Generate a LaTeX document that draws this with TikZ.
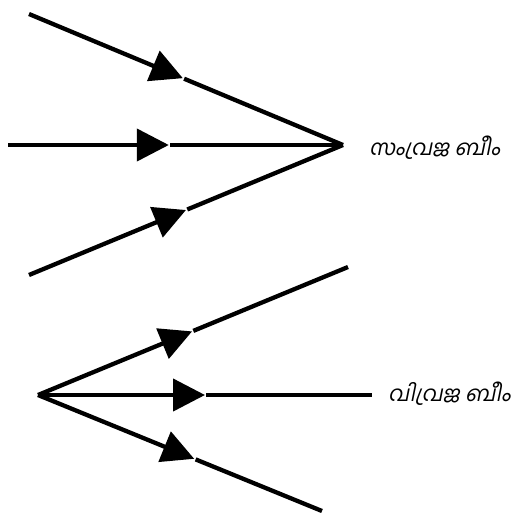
\documentclass[tikz,border=0pt]{standalone}
\usepackage{fontspec}
\newfontfamily\malfont[Script=Malayalam,FakeSlant=0.2]{Hind Kochi}
\usetikzlibrary{arrows.meta,calc}
\begin{document}
\begin{tikzpicture}[x=1pt,y=-1pt,
  ray/.style={line width=4.3pt, black},
  headray/.style={ray, -{Triangle[length=32pt,width=32pt]}},
  lbl/.style={font=\malfont\fontsize{21.5}{24}\selectfont, anchor=west, inner sep=0pt}]
\useasboundingbox (0,0) rectangle (516,512);
% convergent beam
\coordinate (c1) at (29,14);
\coordinate (c2) at (8,145);
\coordinate (c3) at (29,275);
\coordinate (cf) at (343,145);
\draw[headray] (c1) -- ($(c1)!0.49!(cf)$);
\draw[ray] ($(c1)!0.494!(cf)$) -- (cf);
\draw[headray] (c2) -- ($(c2)!0.48!(cf)$);
\draw[ray] ($(c2)!0.484!(cf)$) -- (cf);
\draw[headray] (c3) -- ($(c3)!0.5!(cf)$);
\draw[ray] ($(c3)!0.504!(cf)$) -- (cf);
\node[lbl] (conv) at (369,148) {സംവ്രജ ബീം};
% divergent beam
\coordinate (d0) at (38,395);
\coordinate (d1) at (348,267);
\coordinate (d2) at (372,395);
\coordinate (d3) at (322,511);
\draw[headray] (d0) -- ($(d0)!0.497!(d1)$);
\draw[ray] ($(d0)!0.501!(d1)$) -- (d1);
\draw[headray] (d0) -- ($(d0)!0.5!(d2)$);
\draw[ray] ($(d0)!0.504!(d2)$) -- (d2);
\draw[headray] (d0) -- ($(d0)!0.55!(d3)$);
\draw[ray] ($(d0)!0.555!(d3)$) -- (d3);
\node[lbl] (div) at (388,394) {വിവ്രജ ബീം};
\end{tikzpicture}
\end{document}
